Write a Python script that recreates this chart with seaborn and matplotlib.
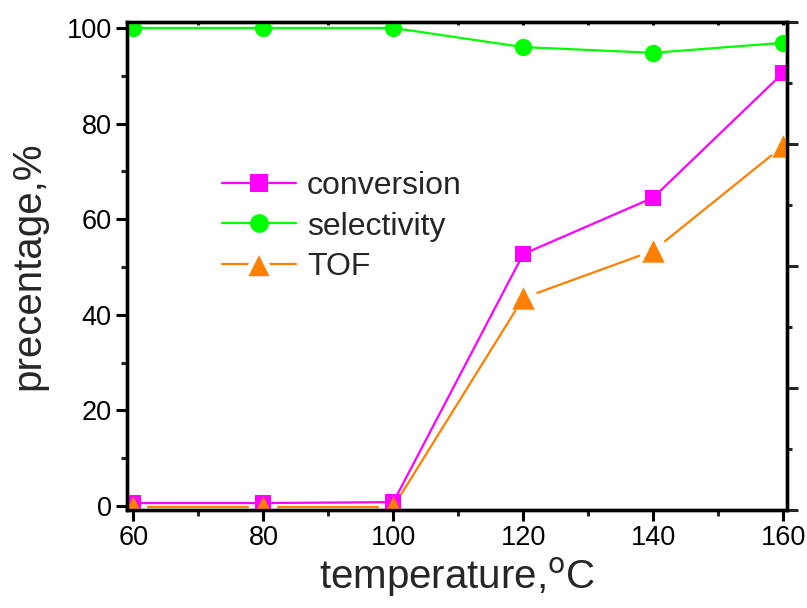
import numpy as np
import pandas as pd
import matplotlib
matplotlib.use("Agg")
import matplotlib.pyplot as plt
import seaborn as sns
from matplotlib.lines import Line2D
from matplotlib.ticker import MultipleLocator

temperature = [60, 80, 100, 120, 140, 160]
conversion = [0.6, 0.6, 0.8, 52.7, 64.5, 90.6]
selectivity = [100, 100, 100, 96.0, 94.8, 96.9]
tof = [-0.2, -0.2, -0.2, 43.5, 53.4, 75.3]

df = pd.DataFrame({"temperature": temperature, "conversion": conversion,
                   "selectivity": selectivity, "TOF": tof})

sns.set_theme(style="ticks")
plt.rcParams['font.family'] = ['Liberation Sans', 'DejaVu Sans']

C_CONV = "#FF00FF"
C_SEL = "#00FF00"
C_TOF = "#FF8000"

fig = plt.figure(figsize=(8.07, 6.08), dpi=100)
ax = fig.add_axes([127/807, 1-510/608, (787-127)/807, (510-22)/608])
ax.set_xlim(59.0, 160.6)
ax.set_ylim(-0.85, 101.25)

sns.lineplot(data=df, x="temperature", y="conversion", ax=ax, color=C_CONV,
             marker="s", markersize=11.5, markeredgewidth=0, linewidth=1.6, zorder=3)
sns.lineplot(data=df, x="temperature", y="selectivity", ax=ax, color=C_SEL,
             marker="o", markersize=12.5, markeredgewidth=0, linewidth=1.6, zorder=3)

# TOF: line segments with gaps around markers (Origin style)
fig.canvas.draw()
gap = 15.0
pts = ax.transData.transform(np.column_stack([temperature, tof]))
inv = ax.transData.inverted()
for i in range(len(pts) - 1):
    p0, p1 = pts[i], pts[i + 1]
    d = p1 - p0
    L = np.hypot(*d)
    if L <= 2 * gap:
        continue
    u = d / L
    a = inv.transform(p0 + u * gap)
    b = inv.transform(p1 - u * gap)
    ax.plot([a[0], b[0]], [a[1], b[1]], color=C_TOF, linewidth=1.6, zorder=4)
sns.scatterplot(data=df, x="temperature", y="TOF", ax=ax, color=C_TOF,
                marker="^", s=260, linewidth=0, zorder=5)

ax.set_xticks([60, 80, 100, 120, 140, 160])
ax.xaxis.set_minor_locator(MultipleLocator(10))
ax.set_yticks([0, 20, 40, 60, 80, 100])
ax.yaxis.set_minor_locator(MultipleLocator(10))

ax.tick_params(axis="both", which="major", direction="out", length=8, width=2.2,
               labelsize=19.5, colors="black", pad=3)
ax.tick_params(axis="both", which="minor", direction="out", length=4.5, width=2.2)
ax.tick_params(axis="x", which="both", top=True)
for t in ax.xaxis.get_major_ticks() + ax.xaxis.get_minor_ticks():
    t.tick2line.set_markersize(2.5)
    t.tick2line.set_marker(3)  # small inward tick at top

for s in ax.spines.values():
    s.set_linewidth(2.4)
    s.set_color("black")

ax.set_xlabel("temperature,$^{\\mathrm{o}}$C", fontsize=29, labelpad=3)
ax.set_ylabel("precentage,%", fontsize=29, labelpad=14)

# right axis (labels outside the image)
ax2 = ax.twinx()
ax2.set_ylim(0, 4)
ax2.yaxis.set_major_locator(MultipleLocator(1))
ax2.yaxis.set_minor_locator(MultipleLocator(0.5))
ax2.tick_params(axis="y", which="major", direction="out", length=8, width=2.2, labelright=False)
ax2.tick_params(axis="y", which="minor", direction="out", length=3.5, width=2.2)
for s in ax2.spines.values():
    s.set_linewidth(2.4)
    s.set_color("black")

handles = [
    Line2D([], [], color=C_CONV, marker="s", markersize=12.5, markeredgewidth=0, linewidth=1.6),
    Line2D([], [], color=C_SEL, marker="o", markersize=13.5, markeredgewidth=0, linewidth=1.6),
    Line2D([], [], color=C_TOF, marker="^", markersize=21, markerfacecolor=C_TOF,
           markeredgecolor="white", markeredgewidth=4, linewidth=1.6),
]
leg = ax.legend(handles, ["conversion", "selectivity", "TOF"], loc="upper left",
                bbox_to_anchor=(0.125, 0.72), frameon=False, fontsize=23,
                handlelength=2.3, handletextpad=0.35, labelspacing=0.32,
                borderaxespad=0)

fig.savefig("out.png", dpi=100)
